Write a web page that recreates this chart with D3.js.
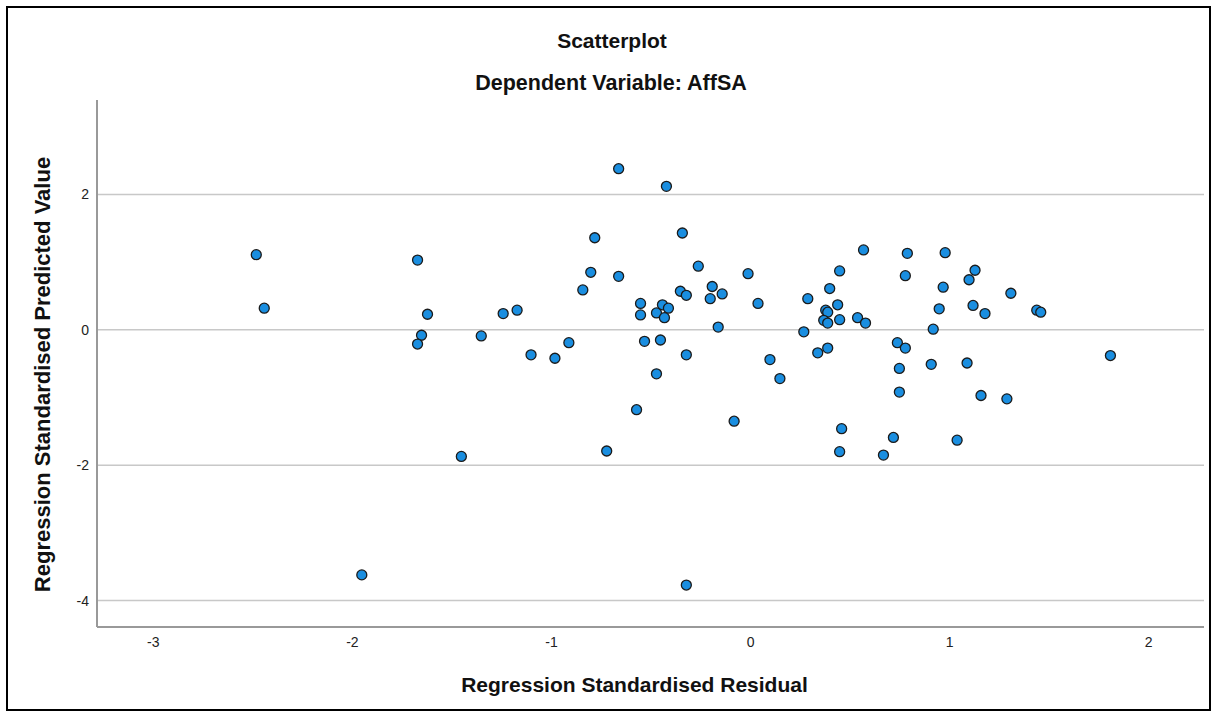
<!DOCTYPE html>
<html>
<head>
<meta charset="utf-8">
<script src="https://cdn.jsdelivr.net/npm/d3@7"></script>
<style>
  html, body { margin: 0; padding: 0; background: #fff; }
  svg { display: block; font-family: "Liberation Sans", Arial, sans-serif; }
</style>
</head>
<body>
<svg id="chart" width="1217" height="716"></svg>
<script>
// Regression diagnostics: standardised residual vs standardised predicted value
const residuals = [
  -2.48, -2.44, -1.95, -0.66, -0.42, -0.78, -0.34, -1.67, -0.80, -0.66,
  -0.26, -0.01, -0.84, -0.35, -0.32, -0.19, -0.14, -0.20, 0.04, -0.55,
  -0.55, -0.47, -0.44, -0.41, -0.43, -1.62, -1.24, -1.17, -0.16, -1.65,
  -1.67, -1.35, -0.91, -0.53, -0.45, -1.10, -0.98, -0.32, -0.47, 0.10,
  0.15, 0.57, 0.79, 0.98, 0.45, 0.78, 1.13, 1.10, 0.40, 0.29,
  0.97, 1.31, 0.44, 0.38, 0.39, 0.95, 1.12, 1.18, 1.44, 1.46,
  0.37, 0.39, 0.45, 0.54, 0.58, 0.27, 0.92, 0.74, 0.78, 0.39,
  0.34, 1.81, 0.75, 0.91, 1.09, 0.75, 1.16, 1.29, 0.46, 0.45,
  0.67, 0.72, 1.04, -1.45, -0.72, -0.57, -0.08, -0.32
];
const predicted = [
  1.11, 0.32, -3.62, 2.38, 2.12, 1.36, 1.43, 1.03, 0.85, 0.79,
  0.94, 0.83, 0.59, 0.57, 0.51, 0.64, 0.53, 0.46, 0.39, 0.39,
  0.22, 0.25, 0.37, 0.32, 0.18, 0.23, 0.24, 0.29, 0.04, -0.08,
  -0.21, -0.09, -0.19, -0.17, -0.15, -0.37, -0.42, -0.37, -0.65, -0.44,
  -0.72, 1.18, 1.13, 1.14, 0.87, 0.80, 0.88, 0.74, 0.61, 0.46,
  0.63, 0.54, 0.37, 0.29, 0.26, 0.31, 0.36, 0.24, 0.29, 0.26,
  0.14, 0.10, 0.15, 0.18, 0.10, -0.03, 0.01, -0.19, -0.27, -0.27,
  -0.34, -0.38, -0.57, -0.51, -0.49, -0.92, -0.97, -1.02, -1.46, -1.80,
  -1.85, -1.59, -1.63, -1.87, -1.79, -1.18, -1.35, -3.77
];
const xTicks = [-3, -2, -1, 0, 1, 2];
const yTicks = [-4, -2, 0, 2];
const xDomain = [-3.28, 2.28];
const yDomain = [-4.39, 3.395];

const titleText = "Scatterplot";
const subtitleText = "Dependent Variable: AffSA";
const xTitle = "Regression Standardised Residual";
const yTitle = "Regression Standardised Predicted Value";

const svg = d3.select("#chart");
const W = 1217, H = 716;
const plot = { left: 97, right: 1204, top: 100, bottom: 627 };

const x = d3.scaleLinear().domain(xDomain).range([plot.left, plot.right]);
const y = d3.scaleLinear().domain(yDomain).range([plot.bottom, plot.top]);

// plain hyphen for negative tick values
const fmt = d => String(d);

// outer frame
svg.append("rect")
  .attr("x", 7).attr("y", 7)
  .attr("width", W - 14).attr("height", H - 13)
  .attr("fill", "none").attr("stroke", "#000").attr("stroke-width", 2);

// titles
svg.append("text").attr("x", 612).attr("y", 48)
  .attr("text-anchor", "middle").attr("font-weight", "bold")
  .attr("font-size", 21).attr("fill", "#111").text(titleText);
svg.append("text").attr("x", 611).attr("y", 90)
  .attr("text-anchor", "middle").attr("font-weight", "bold")
  .attr("font-size", 21.5).attr("fill", "#111").text(subtitleText);

// horizontal gridlines
svg.append("g").selectAll("line").data(yTicks).join("line")
  .attr("x1", plot.left).attr("x2", plot.right)
  .attr("y1", d => y(d)).attr("y2", d => y(d))
  .attr("stroke", "#c8c8c8").attr("stroke-width", 1.5);

// y axis
const yAxis = d3.axisLeft(y).tickValues(yTicks).tickSize(0).tickPadding(8)
  .tickFormat(fmt);
const gy = svg.append("g").attr("transform", `translate(${plot.left},0)`).call(yAxis);
gy.select(".domain").attr("stroke", "#999").attr("stroke-width", 2)
  .attr("d", `M0,${plot.top}V${plot.bottom}`);
gy.selectAll("text").attr("font-size", 14).attr("fill", "#222")
  .attr("font-family", "'Liberation Sans', Arial, sans-serif");

// x axis
const xAxis = d3.axisBottom(x).tickValues(xTicks).tickSize(0).tickPadding(10)
  .tickFormat(fmt);
const gx = svg.append("g").attr("transform", `translate(0,${plot.bottom})`).call(xAxis);
gx.select(".domain").attr("stroke", "#999").attr("stroke-width", 2)
  .attr("d", `M${plot.left},0H${plot.right}`);
gx.selectAll("text").attr("font-size", 14).attr("fill", "#222")
  .attr("font-family", "'Liberation Sans', Arial, sans-serif");

// axis titles
svg.append("text").attr("x", (plot.left + plot.right) / 2 - 16).attr("y", 692)
  .attr("text-anchor", "middle").attr("font-weight", "bold")
  .attr("font-size", 21).attr("fill", "#111").text(xTitle);
svg.append("text")
  .attr("transform", `translate(50,${(plot.top + plot.bottom) / 2 + 11}) rotate(-90)`)
  .attr("text-anchor", "middle").attr("font-weight", "bold")
  .attr("font-size", 22).attr("fill", "#111").text(yTitle);

// points
const points = residuals.map((r, i) => ({ r, p: predicted[i] }));
svg.append("g").selectAll("circle").data(points).join("circle")
  .attr("cx", d => x(d.r)).attr("cy", d => y(d.p)).attr("r", 5)
  .attr("fill", "#1a8ee0").attr("stroke", "#1b1b1b").attr("stroke-width", 1.3);
</script>
</body>
</html>
